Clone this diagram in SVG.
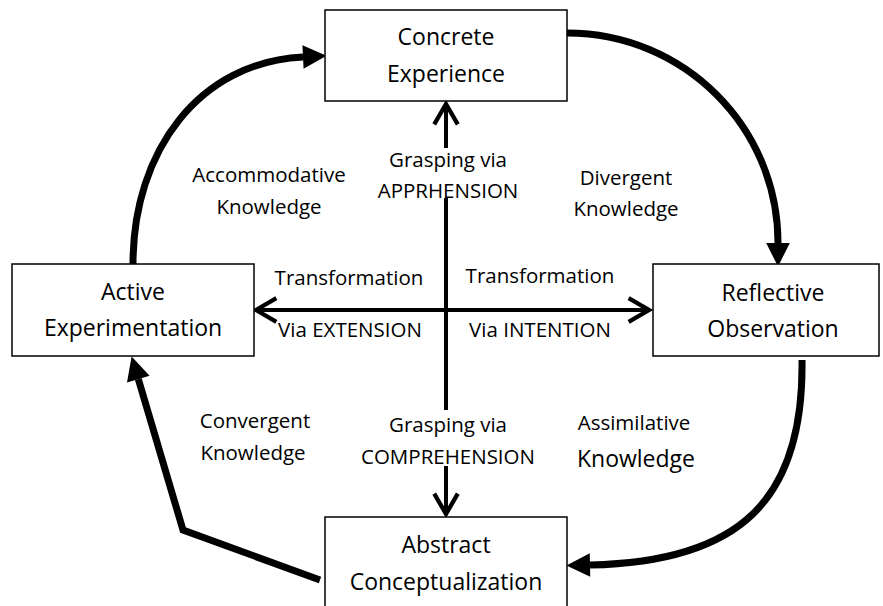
<svg xmlns="http://www.w3.org/2000/svg" width="883" height="606" viewBox="0 0 883 606">
  <style>
    .box { fill: #fff; stroke: #000; stroke-width: 1.5; }
    .t { font-family: "Open Sans", Lato, "Liberation Sans", sans-serif; fill: #000; text-anchor: middle; }
    .big { font-size: 23px; }
    .lab { font-size: 20.5px; }
    .flow { fill: none; stroke: #000; stroke-width: 7; }
    .axis { fill: none; stroke: #000; stroke-width: 4; }
  </style>
  <defs>
    <!-- solid head for the cycle arrows -->
    <marker id="solid" markerUnits="userSpaceOnUse" markerWidth="30" markerHeight="30" refX="0" refY="0" viewBox="-2 -13 28 26" orient="auto" overflow="visible">
      <path d="M0,-11 L22,0 L0,11 Z" fill="#000"/>
    </marker>
    <!-- open chevron head for the two axes -->
    <marker id="open" markerUnits="userSpaceOnUse" markerWidth="30" markerHeight="30" refX="0" refY="0" viewBox="-24 -14 28 28" orient="auto-start-reverse" overflow="visible">
      <path d="M-19,-11 L0,0 L-19,11" fill="none" stroke="#000" stroke-width="4"/>
    </marker>
  </defs>

  <rect width="883" height="606" fill="#fff"/>

  <g id="connectors">
    <!-- learning cycle -->
    <path class="flow" d="M567,33 C684,33 778,127 778,243" marker-end="url(#solid)"/>
    <path class="flow" d="M802,360 C804,500 740,562 590,565" marker-end="url(#solid)"/>
    <path class="flow" d="M320,580 L183,530 L138.3,379.1" stroke-linejoin="miter" marker-end="url(#solid)"/>
    <path class="flow" d="M133,264 C133,150 200,62 303,57" marker-end="url(#solid)"/>
    <!-- grasping axis -->
    <path class="axis" d="M446,148 L446,104" marker-end="url(#open)"/>
    <path class="axis" d="M446,198 L446,410"/>
    <path class="axis" d="M446,466 L446,514" marker-end="url(#open)"/>
    <!-- transformation axis -->
    <path class="axis" d="M256,310 L649,310" marker-start="url(#open)" marker-end="url(#open)"/>
  </g>

  <g id="concrete-experience">
    <rect class="box" x="325" y="10" width="242" height="91"/>
    <text class="t big" x="446" y="45">Concrete</text>
    <text class="t big" x="446" y="82">Experience</text>
  </g>

  <g id="reflective-observation">
    <rect class="box" x="653" y="264" width="226" height="92"/>
    <text class="t big" x="773" y="301">Reflective</text>
    <text class="t big" x="773" y="337">Observation</text>
  </g>

  <g id="abstract-conceptualization">
    <rect class="box" x="325" y="517" width="242" height="100"/>
    <text class="t big" x="446" y="553">Abstract</text>
    <text class="t big" x="446" y="590">Conceptualization</text>
  </g>

  <g id="active-experimentation">
    <rect class="box" x="12" y="264" width="242" height="92"/>
    <text class="t big" x="133" y="300">Active</text>
    <text class="t big" x="133" y="336">Experimentation</text>
  </g>

  <g id="labels">
    <text class="t lab" x="448" y="167">Grasping via</text>
    <text class="t lab" x="448" y="198">APPRHENSION</text>
    <text class="t lab" x="448" y="432">Grasping via</text>
    <text class="t lab" x="448" y="464">COMPREHENSION</text>

    <text class="t lab" x="349" y="285">Transformation</text>
    <text class="t lab" x="350" y="337">Via EXTENSION</text>
    <text class="t lab" x="540" y="283">Transformation</text>
    <text class="t lab" x="540" y="337">Via INTENTION</text>

    <text class="t lab" x="269" y="182">Accommodative</text>
    <text class="t lab" x="269" y="214">Knowledge</text>
    <text class="t lab" x="626" y="185">Divergent</text>
    <text class="t lab" x="626" y="216">Knowledge</text>
    <text class="t lab" x="255" y="428">Convergent</text>
    <text class="t lab" x="253" y="460">Knowledge</text>
    <text class="t lab" x="634" y="430">Assimilative</text>
    <text class="t big" x="636" y="467">Knowledge</text>
  </g>
</svg>
